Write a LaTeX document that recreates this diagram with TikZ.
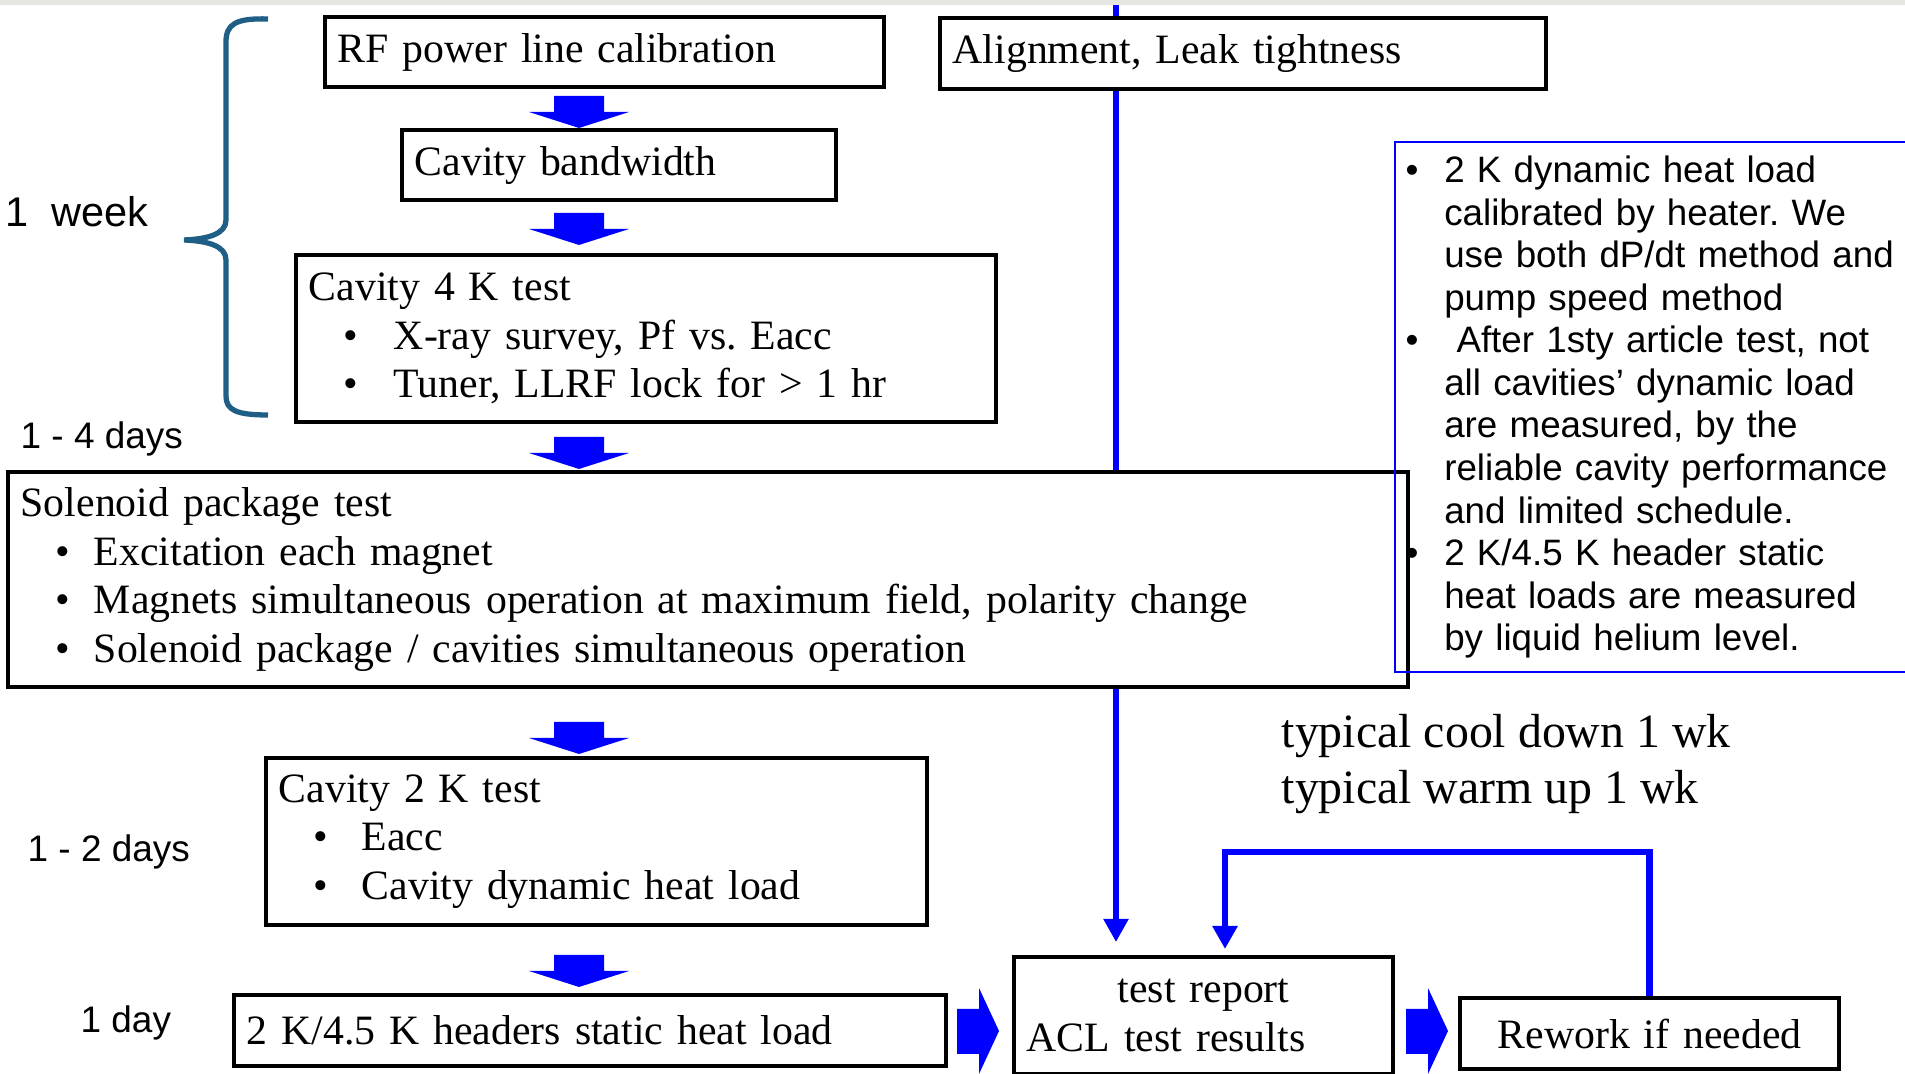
\documentclass[tikz,border=0pt]{standalone}
\usepackage{fontspec}
\setmainfont{Liberation Serif}
\setsansfont{Liberation Sans}
\usetikzlibrary{arrows.meta}
\frenchspacing
\definecolor{bracecol}{HTML}{1F5F85}
\definecolor{bandgray}{HTML}{E6E6E0}
\newcommand{\tbul}[2][13.8pt]{\hspace*{10pt}\makebox[#1][l]{\textbullet}#2}
\newcommand{\nbul}[1]{\makebox[11pt][l]{\textbullet}#1}
\newcommand{\nind}[1]{\hspace*{11pt}#1}
\tikzset{
	testbox/.style 2 args={draw,line width=1.2pt,fill=white,anchor=north west,
		inner xsep=3.6pt,inner ysep=0pt,align=left,
		text width={#1*0.01cm-7.2pt},minimum height={#2*0.01cm}},
	notebox/.style={draw=blue,line width=0.6pt,anchor=north west,
		inner xsep=3pt,inner ysep=0pt,align=left,text width=5.4cm,minimum height=5.3cm,
		font=\sffamily\fontsize{10.45}{12.1}\selectfont},
	daytext/.style={anchor=base west,inner sep=0pt,font=\sffamily\fontsize{10.5}{12}\selectfont},
	flowline/.style={blue,line width=1.5pt,->},
	blockarrow/.style={fill=blue},
}
\begin{document}
\begin{tikzpicture}[x=0.01cm,y=-0.01cm,>={Triangle[length=0.23cm,width=0.24cm]},
	font=\fontsize{11.88}{13.8}\selectfont]
	\useasboundingbox (0,0) rectangle (1905,1074);
	\fill[bandgray] (0,0) rectangle (1905,5);
	\coordinate (vtop) at (1116,5);
	\node[testbox={379}{117}] (report) at (1012,955)
		{\makebox[\linewidth]{test report}\\ACL test results};
	\node[testbox={379}{71},align=center] (rework) at (1458,996) {Rework if needed};
	\draw[flowline,shorten >=0.13cm] (vtop) -- (vtop |- report.north);
	\node[testbox={606}{71}] (align) at (938,16) {Alignment, Leak tightness};
	\node[testbox={559}{70}] (rf) at (323,15) {RF power line calibration};
	\node[testbox={434}{70}] (bw) at (400,128) {Cavity bandwidth};
	\node[testbox={700}{167}] (c4) at (294,253)
		{Cavity 4 K test\\
		\tbul[14.2pt]{X-ray survey, Pf vs. Eacc}\\
		\tbul[14.2pt]{Tuner, LLRF lock for > 1 hr}};
	\node[testbox={1400}{215}] (sol) at (6,470)
		{Solenoid package test\\
		\tbul[10.8pt]{Excitation each magnet}\\
		\tbul[10.8pt]{Magnets simultaneous operation at maximum field, polarity change}\\
		\tbul[10.8pt]{Solenoid package / cavities simultaneous operation}};
	\node[testbox={661}{167}] (c2) at (264,756)
		{Cavity 2 K test\\
		\tbul[13.6pt]{Eacc}\\
		\tbul[13.6pt]{Cavity dynamic heat load}};
	\node[testbox={712}{71}] (hdr) at (232,993) {2 K/4.5 K headers static heat load};
	\node[notebox] (note) at (1394,141)
		{\nbul{2 K dynamic heat load}\\
		\nind{calibrated by heater. We}\\
		\nind{use both dP/dt method and}\\
		\nind{pump speed method}\\
		\nbul{\ After 1sty article test, not}\\
		\nind{all cavities’ dynamic load}\\
		\nind{are measured, by the}\\
		\nind{reliable cavity performance}\\
		\nind{and limited schedule.}\\
		\nbul{2 K/4.5 K header static}\\
		\nind{heat loads are measured}\\
		\nind{by liquid helium level.}};
	\foreach \ty in {96,213,437,722,955}
	{\fill[blockarrow] (554,\ty) -- (604,\ty) -- (604,\ty+16) -- (629,\ty+16)
		-- (579,\ty+32) -- (529,\ty+16) -- (554,\ty+16) -- cycle;}
	\foreach \lx in {957,1406}
	{\fill[blockarrow] (\lx,1009) -- (\lx+22,1009) -- (\lx+22,988) -- (\lx+42,1031)
		-- (\lx+22,1074) -- (\lx+22,1054) -- (\lx,1054) -- cycle;}
	\coordinate (fbL) at (1225,852);
	\draw[flowline,line width=1.8pt,shorten >=0.06cm] (rework.north) -- (rework.north |- fbL)
		-- (fbL) -- (fbL |- report.north);
	\draw[bracecol,line width=1.5pt] (268,19) .. controls (236,18) and (226,24) .. (226,42)
		-- (226,220) .. controls (226,234) and (208,239) .. (184,240)
		.. controls (208,241) and (226,246) .. (226,260)
		-- (226,396) .. controls (226,410) and (236,415) .. (268,415);
	\node[daytext,font=\sffamily\fontsize{11.8}{13}\selectfont] (wk) at (5,227) {1\ \ week};
	\node[daytext] (d14) at (20,449) {1 - 4 days};
	\node[daytext] (d12) at (27,862) {1 - 2 days};
	\node[daytext] (d1) at (80,1033) {1 day};
	\node[anchor=base west,inner sep=0pt,font=\fontsize{13.6}{16}\selectfont] (cool)
		at (1281,748) {typical cool down 1 wk};
	\node[anchor=base west,inner sep=0pt,font=\fontsize{13.6}{16}\selectfont] (warm)
		at (1281,804) {typical warm up 1 wk};
\end{tikzpicture}
\end{document}
